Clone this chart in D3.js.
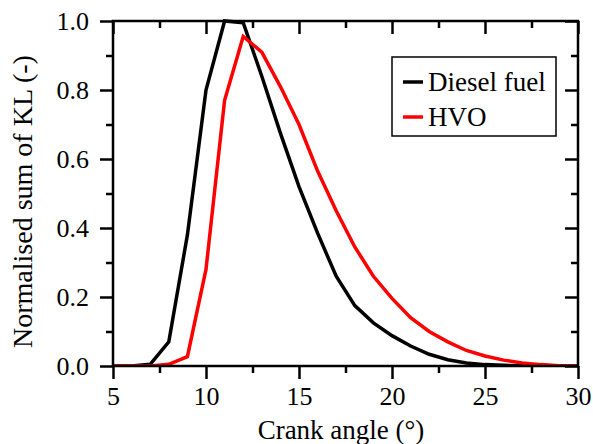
<!DOCTYPE html>
<html>
<head>
<meta charset="utf-8">
<script src="https://cdn.jsdelivr.net/npm/d3@7"></script>
<style>
  html, body { margin: 0; padding: 0; background: #fff; }
  svg { display: block; }
</style>
</head>
<body>
<svg id="chart" width="593" height="444"></svg>
<script>
// ---- data ----
const crankAngle = [5, 6, 7, 8, 9, 10, 11, 12, 13, 14, 15, 16, 17, 18, 19, 20, 21, 22, 23, 24, 25, 26, 27, 28, 29, 30];
const dieselFuel = [0, 0, 0.005, 0.07, 0.38, 0.80, 1.0, 0.995, 0.84, 0.675, 0.52, 0.385, 0.26, 0.175, 0.125, 0.088, 0.058, 0.034, 0.018, 0.009, 0.004, 0.002, 0.001, 0, 0, 0];
const hvo = [0, 0, 0, 0.005, 0.027, 0.28, 0.77, 0.955, 0.91, 0.81, 0.70, 0.565, 0.45, 0.345, 0.26, 0.196, 0.14, 0.10, 0.07, 0.045, 0.029, 0.017, 0.009, 0.004, 0.001, 0];
const seriesNames = ["Diesel fuel", "HVO"];
const seriesColors = ["#000000", "#ff0000"];
const xTicks = [5, 10, 15, 20, 25, 30];
const yTicks = [0, 0.2, 0.4, 0.6, 0.8, 1.0];
const xTitle = "Crank angle (\u00B0)";
const yTitle = "Normalised sum of KL (-)";

const FONT = "Liberation Serif";

// ---- layout ----
const svg = d3.select("#chart").attr("font-family", FONT);
const L = 113, R = 578, T = 21, B = 366;
const x = d3.scaleLinear().domain([5, 30]).range([L, R]);
const y = d3.scaleLinear().domain([0, 1]).range([B, T]);
const majorLen = 13, minorLen = 7;
const xMinor = d3.range(7.5, 30, 5);
const yMinor = d3.range(0.1, 1, 0.2);

svg.append("clipPath").attr("id", "clip").append("rect")
  .attr("x", L).attr("y", T - 2).attr("width", R - L).attr("height", B - T + 2);

const line = d3.line().x((d, i) => x(crankAngle[i])).y(d => y(d));
const g = svg.append("g").attr("clip-path", "url(#clip)");
[dieselFuel, hvo].forEach((s, k) => {
  g.append("path").datum(s)
    .attr("d", line)
    .attr("fill", "none")
    .attr("stroke", seriesColors[k])
    .attr("stroke-width", 3.5)
    .attr("stroke-linejoin", "miter");
});

const axW = 2.5;
function addAxis(axis, tx, ty) {
  const a = svg.append("g").attr("transform", `translate(${tx},${ty})`).call(axis);
  a.attr("font-family", FONT).attr("font-size", 26);
  a.select(".domain").remove();
  a.selectAll(".tick line").attr("stroke", "#000").attr("stroke-width", axW);
  a.selectAll(".tick text").attr("fill", "#000").attr("font-family", FONT).attr("font-size", 26);
  return a;
}
addAxis(d3.axisBottom(x).tickValues(xTicks).tickFormat(d3.format("d")).tickSize(majorLen).tickPadding(8), 0, B);
addAxis(d3.axisBottom(x).tickValues(xMinor).tickFormat("").tickSize(minorLen), 0, B);
addAxis(d3.axisBottom(x).tickValues(xTicks).tickFormat("").tickSize(majorLen), 0, T);
addAxis(d3.axisBottom(x).tickValues(xMinor).tickFormat("").tickSize(minorLen), 0, T);
addAxis(d3.axisLeft(y).tickValues(yTicks).tickFormat(d3.format(".1f")).tickSize(majorLen).tickPadding(11), L, 0);
addAxis(d3.axisLeft(y).tickValues(yMinor).tickFormat("").tickSize(minorLen), L, 0);
addAxis(d3.axisLeft(y).tickValues(yTicks).tickFormat("").tickSize(majorLen), R, 0);
addAxis(d3.axisLeft(y).tickValues(yMinor).tickFormat("").tickSize(minorLen), R, 0);

svg.append("rect").attr("x", L).attr("y", T).attr("width", R - L).attr("height", B - T)
  .attr("fill", "none").attr("stroke", "#000").attr("stroke-width", axW);

svg.append("text").attr("x", 341).attr("y", 439).attr("text-anchor", "middle")
  .attr("font-family", FONT).attr("font-size", 27).text(xTitle);
svg.append("text").attr("transform", `translate(32,${(T + B) / 2 + 8}) rotate(-90)`)
  .attr("text-anchor", "middle").attr("font-family", FONT).attr("font-size", 28).text(yTitle);

const lg = svg.append("g");
lg.append("rect").attr("x", 392).attr("y", 57).attr("width", 164).attr("height", 79)
  .attr("fill", "#fff").attr("stroke", "#000").attr("stroke-width", 1.5);
seriesNames.forEach((n, k) => {
  const cy = 82 + k * 35;
  lg.append("line").attr("x1", 403).attr("x2", 423).attr("y1", cy).attr("y2", cy)
    .attr("stroke", seriesColors[k]).attr("stroke-width", 3.5);
  lg.append("text").attr("x", 428).attr("y", cy + 9).attr("font-family", FONT)
    .attr("font-size", 27).text(n);
});
</script>
</body>
</html>
